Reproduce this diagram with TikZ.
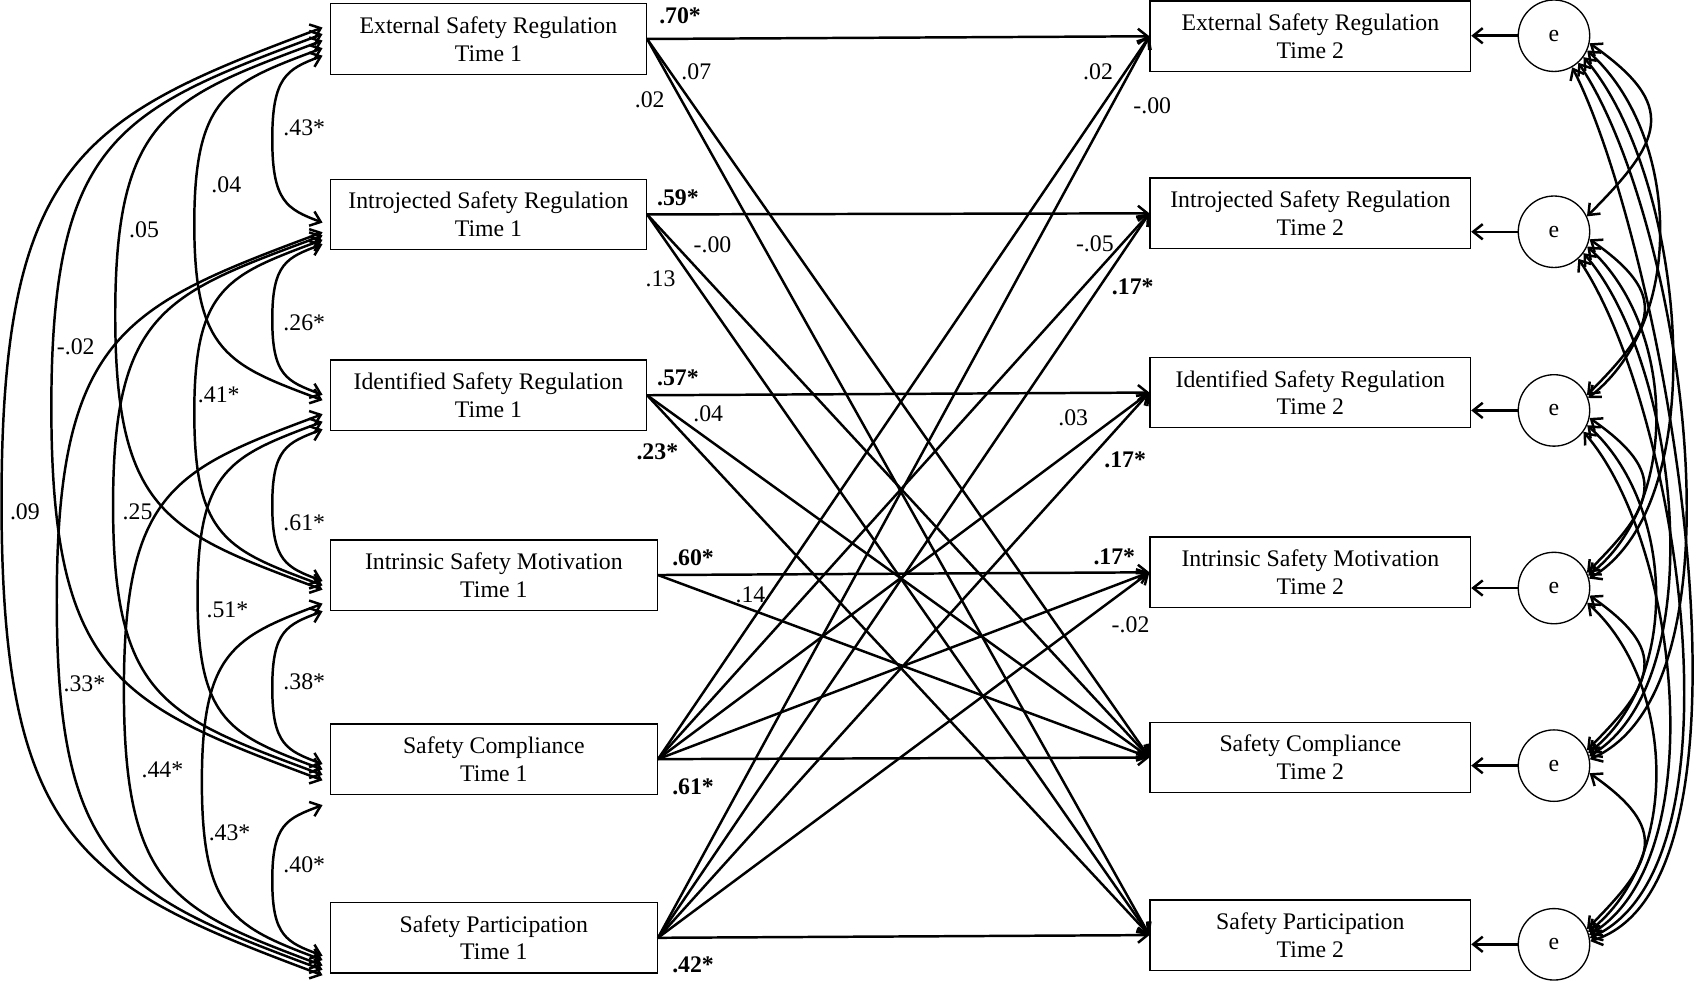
\documentclass[tikz,border=0pt]{standalone}
\usepackage{fontspec}
\setmainfont{Liberation Serif}
\usetikzlibrary{arrows.meta,calc}

\newcommand\semfont{\fontsize{12.5}{14.5}\selectfont}

% covariance on the left: upper box, lower box, drop at upper, drop at lower, depth
\newcommand\covleft[5]{%
  \draw[cov] let \p1=([yshift={-(#3)*0.02cm}]#1.west), \p2=([yshift={-(#4)*0.02cm}]#2.west) in
    (\p1) .. controls +({-0.75*(#5)*0.02cm},{-0.28*(#5)*0.02cm}) and +(0pt,{0.36*(\y1-\y2)})
    .. ({\x1-(#5)*0.02cm},{0.5*(\y1+\y2)})
    .. controls +(0pt,{-0.36*(\y1-\y2)}) and +({-0.75*(#5)*0.02cm},{0.28*(#5)*0.02cm}) .. (\p2);}

\begin{document}
\begin{tikzpicture}[x=0.02cm, y=0.02cm,
  every node/.style={font=\semfont},
  var/.style={draw, line width=0.7pt, minimum width=5.84cm, minimum height=1.3cm, inner sep=0pt, align=center},
  wide/.style={var, minimum width=6.04cm},
  var2/.style={var, minimum width=5.92cm},
  err/.style={draw, circle, line width=0.7pt, minimum size=1.32cm, inner sep=0pt},
  est/.style={inner sep=0pt},
  sig/.style={est, font=\semfont\bfseries},
  reg/.style={line width=1.3pt, -{Straight Barb[length=5pt,width=8pt]}},
  cov/.style={line width=1.3pt, {Straight Barb[length=5pt,width=8pt]}-{Straight Barb[length=5pt,width=8pt]}}]
  \useasboundingbox (0,0) rectangle (1568,-916);

  % time 1
  \node[var] (ext1) at (451,-36) {External Safety Regulation\\Time 1};
  \node[var] (intro1) at (451,-198) {Introjected Safety Regulation\\Time 1};
  \node[var] (iden1) at (451,-365) {Identified Safety Regulation\\Time 1};
  \node[wide] (intr1) at (456,-531) {Intrinsic Safety Motivation\\Time 1};
  \node[wide] (comp1) at (456,-701) {Safety Compliance\\Time 1};
  \node[wide] (part1) at (456,-866) {Safety Participation\\Time 1};

  % time 2
  \node[var2] (ext2) at (1210,-33.5) {External Safety Regulation\\Time 2};
  \node[var2] (intro2) at (1210,-197) {Introjected Safety Regulation\\Time 2};
  \node[var2] (iden2) at (1210,-362.5) {Identified Safety Regulation\\Time 2};
  \node[var2] (intr2) at (1210,-528.5) {Intrinsic Safety Motivation\\Time 2};
  \node[var2] (comp2) at (1210,-699.5) {Safety Compliance\\Time 2};
  \node[var2] (part2) at (1210,-863.5) {Safety Participation\\Time 2};

  % residuals
  \foreach \k/\y/\t in {1/33/ext,2/214/intro,3/379/iden,4/543/intr,5/707/comp,6/872/part} {
    \node[err] (e\k) at (1435,-\y) {e};
    \draw[reg] (e\k) -- (e\k -| \t2.east);
  }

  % paths
  \foreach \t in {ext,intro,iden,intr,comp,part}
    \draw[reg] (\t1.east) -- (\t2.west);
  \foreach \t in {ext,intro,iden,intr}
    \draw[reg] (\t1.east) -- (comp2.west);
  \foreach \t in {ext,intro,iden}
    \draw[reg] (\t1.east) -- (part2.west);
  \foreach \t in {ext,intro,iden,intr} {
    \draw[reg] (comp1.east) -- (\t2.west);
    \draw[reg] (part1.east) -- (\t2.west);
  }

  % covariances at time 1
  \begin{scope}[cov/.append style={shorten <=0.14cm, shorten >=0.14cm}]
  \foreach \pa/\pb/\da/\db/\dep in {ext1/intro1/13/10/53, ext1/iden1/6/7/125, ext1/intr1/-1/16/198,
      ext1/comp1/-7/22/257, ext1/part1/-13/37/303, intro1/iden1/25/2/53, intro1/intr1/21/12/125,
      intro1/comp1/17/17/200, intro1/part1/14/32/252, iden1/intr1/29/8/53, iden1/comp1/22/12/122,
      iden1/part1/15/28/190, intr1/comp1/31/7/53, intr1/part1/24/23/118, comp1/part1/40/19/53} {
    \covleft{\pa}{\pb}{\da}{\db}{\dep}
  }
  \end{scope}

  % residual covariances
  \foreach \i/\j/\lo in {1/2/1.6,2/3/1.6,3/4/1.6,4/5/1.6,5/6/1.6,1/3/0.92,2/4/0.92,3/5/0.92,4/6/0.92,
      1/4/0.74,2/5/0.74,3/6/0.74,1/5/0.66,2/6/0.66,1/6/0.58} {
    \pgfmathtruncatemacro\gap{\j-\i}
    \pgfmathtruncatemacro\angA{-12-12*(\gap-1)}
    \pgfmathtruncatemacro\angB{25-5*(\gap-1)}
    \pgfmathtruncatemacro\dirA{-35-7*(\gap-1)}
    \pgfmathtruncatemacro\dirB{45-7*(\gap-1)}
    \draw[cov] (e\i.\angA) to[out=\dirA, in=\dirB, looseness=\lo] (e\j.\angB);
  }

  % estimates on the covariances
  \node[est] (c12) at (281,-118) {.43*};
  \node[est] (c13) at (209,-171) {.04};
  \node[est] (c14) at (133,-212) {.05};
  \node[est] (c15) at (70,-320) {-.02};
  \node[est] (c16) at (23,-473) {.09};
  \node[est] (c23) at (281,-298) {.26*};
  \node[est] (c24) at (202,-365) {.41*};
  \node[est] (c25) at (127,-473) {.25};
  \node[est] (c26) at (78,-631) {.33*};
  \node[est] (c34) at (281,-483) {.61*};
  \node[est] (c35) at (210,-563) {.51*};
  \node[est] (c36) at (150,-711) {.44*};
  \node[est] (c45) at (281,-630) {.38*};
  \node[est] (c46) at (212,-769) {.43*};
  \node[est] (c56) at (281,-799) {.40*};

  % estimates on the paths
  \node[sig] (b11) at (628,-15) {.70*};
  \node[est] (b15) at (643,-66) {.07};
  \node[est] (b16) at (600,-92) {.02};
  \node[sig] (b22) at (626,-183) {.59*};
  \node[est] (b25) at (658,-226) {-.00};
  \node[est] (b26) at (610,-257) {.13};
  \node[sig] (b33) at (626,-349) {.57*};
  \node[est] (b35) at (654,-382) {.04};
  \node[sig] (b36) at (607,-417) {.23*};
  \node[sig] (b44) at (640,-515) {.60*};
  \node[est] (b45) at (693,-549) {.14};
  \node[sig] (b55) at (640,-727) {.61*};
  \node[sig] (b66) at (640,-891) {.42*};
  \node[est] (b51) at (1014,-66) {.02};
  \node[est] (b61) at (1064,-98) {-.00};
  \node[est] (b52) at (1011,-225) {-.05};
  \node[sig] (b62) at (1046,-265) {.17*};
  \node[est] (b53) at (991,-386) {.03};
  \node[sig] (b63) at (1039,-425) {.17*};
  \node[sig] (b54) at (1029,-514) {.17*};
  \node[est] (b64) at (1044,-577) {-.02};
\end{tikzpicture}
\end{document}
